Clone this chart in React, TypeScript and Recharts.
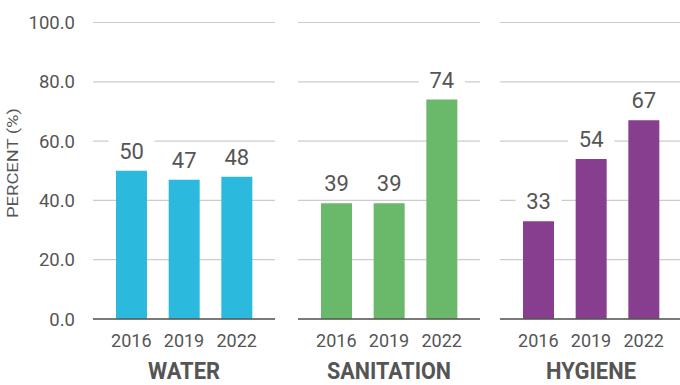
import { BarChart, Bar, XAxis, YAxis, CartesianGrid, LabelList } from "recharts";

const years = ["2016", "2019", "2022"];
const water = [50, 47, 48];
const sanitation = [39, 39, 74];
const hygiene = [33, 54, 67];
const yTicks = [0, 20, 40, 60, 80, 100];

const TEXT = "#555555";
const FONT = "Roboto, 'Noto Sans', sans-serif";

const panels = [
  { title: "WATER", values: water, color: "#2BBADD", titleWidth: 72 },
  { title: "SANITATION", values: sanitation, color: "#6AB86A", titleWidth: 124 },
  { title: "HYGIENE", values: hygiene, color: "#873E8E", titleWidth: 90 },
];

// value label with a white box behind it, so the grid line is cut
const ValueLabel = (props: any) => {
  const { x, y, width, value } = props;
  const cx = x + width / 2;
  const base = y - 12;
  return (
    <g>
      <rect x={cx - 23} y={base - 22} width={46} height={28} fill="#fff" />
      <text x={cx} y={base} textAnchor="middle" fontSize={22} fill={TEXT} fontFamily={FONT}>
        {value}
      </text>
    </g>
  );
};

const YearTick = (props: any) => {
  const { x, payload } = props;
  return (
    <text x={x} y={346.5} textAnchor="middle" fontSize={18} fill={TEXT} fontFamily={FONT}>
      {payload.value}
    </text>
  );
};

function Panel({ title, values, color, titleWidth, first }: any) {
  const data = years.map((year, i) => ({ year, value: values[i] }));
  return (
    <BarChart
      width={first ? 280 : 182}
      height={385}
      data={data}
      margin={{ top: 22.5, right: first ? 5 : 0, left: 0, bottom: 0 }}
      barSize={31}
    >
      <CartesianGrid vertical={false} stroke="#cccccc" strokeWidth={1.2} />
      <XAxis
        dataKey="year"
        height={66}
        padding={{ left: 12, right: 12 }}
        tickLine={false}
        axisLine={{ stroke: "#555555", strokeWidth: 1.5 }}
        tick={<YearTick />}
        interval={0}
        label={{
          content: (p: any) => {
            const vb = p.viewBox;
            return (
              <text
                x={vb.x + vb.width / 2}
                y={379}
                textAnchor="middle"
                fontSize={23}
                fontWeight="bold"
                fill={TEXT}
                fontFamily={FONT}
                textLength={titleWidth}
                lengthAdjust="spacingAndGlyphs"
              >
                {title}
              </text>
            );
          },
        }}
      />
      <YAxis
        hide={!first}
        width={93}
        domain={[0, 100]}
        ticks={yTicks}
        tickFormatter={(v: number) => v.toFixed(1)}
        tickLine={false}
        axisLine={false}
        tickMargin={12}
        tick={{ fontSize: 18.5, fill: TEXT, fontFamily: FONT }}
        label={
          first
            ? {
                content: () => (
                  <text
                    x={0}
                    y={0}
                    transform="translate(18, 163) rotate(-90)"
                    textAnchor="middle"
                    fontSize={15}
                    fill={TEXT}
                    fontFamily={FONT}
                    textLength={110}
                    lengthAdjust="spacingAndGlyphs"
                  >
                    PERCENT (%)
                  </text>
                ),
              }
            : undefined
        }
      />
      <Bar dataKey="value" fill={color} isAnimationActive={false}>
        <LabelList dataKey="value" content={<ValueLabel />} />
      </Bar>
    </BarChart>
  );
}

export default function App() {
  const lefts = [0, 298, 500];
  return (
    <div
      style={{
        position: "absolute",
        left: 0,
        top: 0,
        width: 680,
        height: 385,
        overflow: "hidden",
        background: "#fff",
      }}
    >
      {panels.map((p, i) => (
        <div key={p.title} style={{ position: "absolute", left: lefts[i], top: 0 }}>
          <Panel {...p} first={i === 0} />
        </div>
      ))}
    </div>
  );
}
